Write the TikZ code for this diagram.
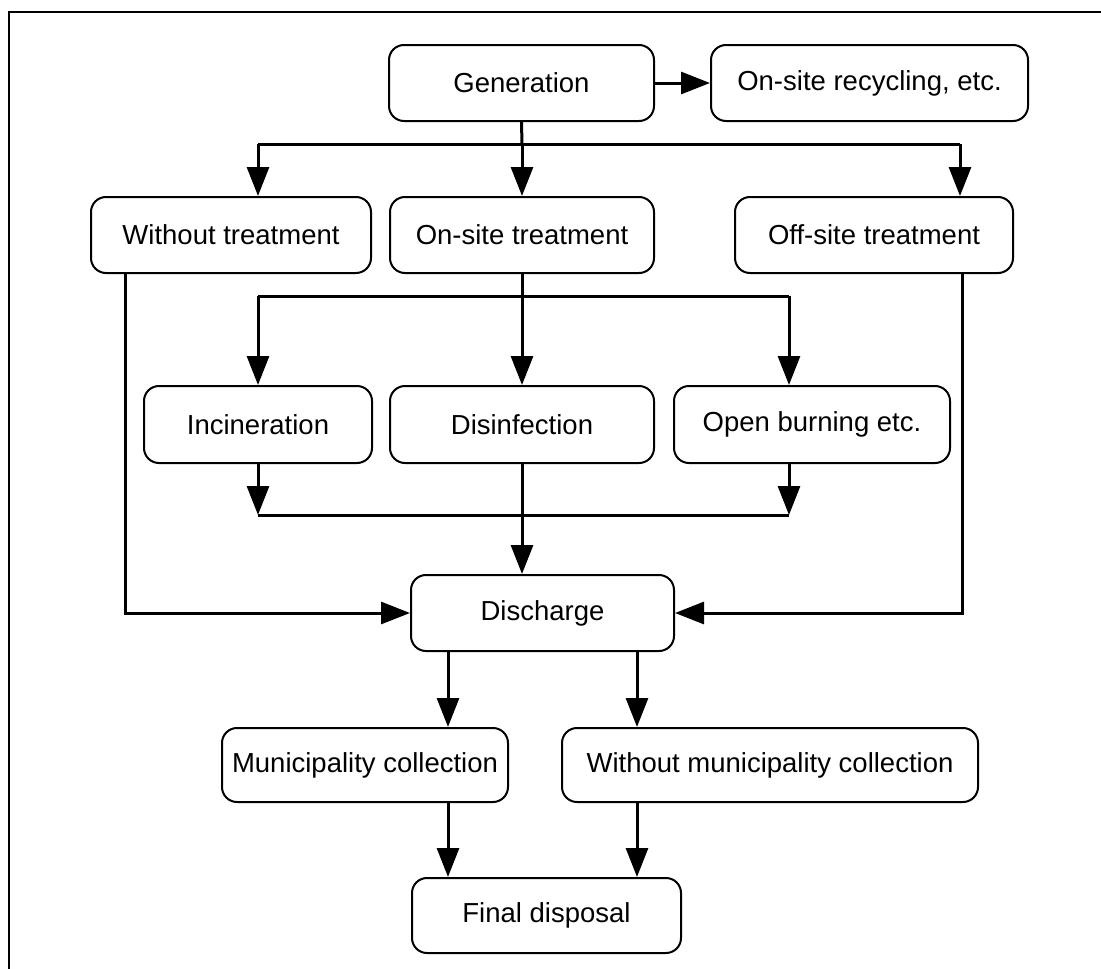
\documentclass[tikz,border=0pt]{standalone}
\usepackage{fontspec}
\setmainfont{Liberation Sans}
\usetikzlibrary{arrows.meta}
\begin{document}
\begin{tikzpicture}[x=1pt,y=-1pt,
  box/.style={draw, line width=2pt, rounded corners=15pt, inner sep=0pt,
    font=\fontsize{27.5}{32}\selectfont},
  line/.style={line width=3pt},
  arr/.style={line width=3pt, -{Triangle[length=29pt,width=22pt]}}]
\useasboundingbox (0,0) rectangle (1101,969);
\draw[line width=2.5pt] (9,969) -- (9,12) -- (1101,12);
% nodes
\node[box, minimum width=265pt, minimum height=76pt] (gen) at (521.5,83) {Generation};
\node[box, minimum width=317pt, minimum height=76pt] (rec) at (869.5,83) {On-site recycling, etc.};
\node[box, minimum width=280pt, minimum height=76pt] (wo) at (231,235) {Without treatment};
\node[box, minimum width=264pt, minimum height=76pt] (ons) at (522,235) {On-site treatment};
\node[box, minimum width=278pt, minimum height=76pt] (off) at (874,235) {Off-site treatment};
\node[box, minimum width=228pt, minimum height=77pt] (inc) at (258,424.5) {Incineration};
\node[box, minimum width=264pt, minimum height=77pt] (dis) at (522,424.5) {Disinfection};
\node[box, minimum width=276pt, minimum height=77pt] (ob) at (812,424.5) {Open burning etc.};
\node[box, minimum width=263pt, minimum height=76pt] (disc) at (542.5,613) {Discharge};
\node[box, minimum width=286pt, minimum height=74pt] (mun) at (365,765) {Municipality collection};
\node[box, minimum width=416pt, minimum height=74pt] (wom) at (770,765) {Without municipality collection};
\node[box, minimum width=269pt, minimum height=75pt] (fin) at (546.5,915.5) {Final disposal};
% junction coordinates
\coordinate (j1) at (522,144);
\coordinate (j1l) at (258,144);
\coordinate (j1r) at (960,144);
\coordinate (j2) at (522,296);
\coordinate (j2l) at (258,296);
\coordinate (j2r) at (789,296);
\coordinate (j3l) at (258,515);
\coordinate (j3r) at (789,515);
\coordinate (wl) at (125,613);
\coordinate (wr) at (962,613);
\coordinate (d1) at (448,0);
\coordinate (d2) at (637,0);
% connectors
\draw[arr] (gen.east) -- (rec.west);
\draw[line] (gen.south) -- (j1);
\draw[line] (j1l) -- (j1r);
\draw[arr] (j1l) -- (j1l |- wo.north);
\draw[arr] (j1) -- (ons.north);
\draw[arr] (j1r) -- (j1r |- off.north);
\draw[line] (ons.south) -- (j2);
\draw[line] (j2l) -- (j2r);
\draw[arr] (j2l) -- (j2l |- inc.north);
\draw[arr] (j2) -- (dis.north);
\draw[arr] (j2r) -- (j2r |- ob.north);
\draw[arr] (j3l |- inc.south) -- (j3l);
\draw[arr] (j3r |- ob.south) -- (j3r);
\draw[line] (j3l) -- (j3r);
\draw[arr] (dis.south) -- (dis.south |- disc.north);
\draw[arr] (wl |- wo.south) -- (wl) -- (disc.west);
\draw[arr] (wr |- off.south) -- (wr) -- (disc.east);
\draw[arr] (d1 |- disc.south) -- (d1 |- mun.north);
\draw[arr] (d2 |- disc.south) -- (d2 |- wom.north);
\draw[arr] (d1 |- mun.south) -- (d1 |- fin.north);
\draw[arr] (d2 |- wom.south) -- (d2 |- fin.north);
\end{tikzpicture}
\end{document}
